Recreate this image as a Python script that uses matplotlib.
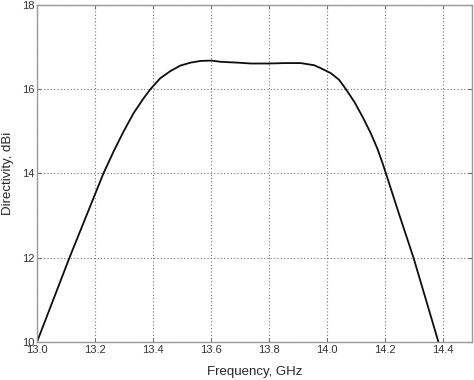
import matplotlib
matplotlib.use("Agg")
import matplotlib.pyplot as plt

plt.rcParams['font.family'] = ['Liberation Sans', 'DejaVu Sans']

# directivity curve
freq = [13.0, 13.056, 13.112, 13.229, 13.264, 13.298, 13.333, 13.367,
        13.391, 13.425, 13.46, 13.494, 13.529, 13.563, 13.6, 13.634,
        13.692, 13.738, 13.8, 13.854, 13.909, 13.955, 13.978, 14.013,
        14.042, 14.065, 14.094, 14.122, 14.151, 14.174, 14.19, 14.203,
        14.248, 14.298, 14.384]
dbi = [10.0, 11.0, 12.0, 14.0, 14.52, 14.99, 15.43, 15.78,
       16.0, 16.26, 16.43, 16.56, 16.63, 16.67, 16.68, 16.65,
       16.63, 16.61, 16.61, 16.62, 16.62, 16.57, 16.50, 16.38,
       16.22, 16.0, 15.70, 15.35, 14.95, 14.58, 14.27, 14.0,
       13.04, 12.0, 10.0]

xticks = [13.0, 13.2, 13.4, 13.6, 13.8, 14.0, 14.2, 14.4]
yticks = [10, 12, 14, 16, 18]

fig = plt.figure(figsize=(4.74, 3.8), dpi=100)
ax = fig.add_axes([0.078, 0.1, 0.918, 0.887])

ax.plot(freq, dbi, color='0.05', linewidth=1.3)

ax.set_xlim(13.0, 14.5)
ax.set_ylim(10, 18)
ax.set_xticks(xticks)
ax.set_xticklabels(['%.1f' % t for t in xticks])
ax.set_yticks(yticks)

ax.grid(True, color='0.45', linestyle=(0, (1, 2)), linewidth=0.8)
for s in ax.spines.values():
    s.set_color('0.6')
    s.set_linewidth(1.0)
ax.tick_params(direction='in', length=3, color='0.45', labelsize=8,
               labelcolor='0.2', pad=2, top=True, right=True)

ax.set_xlabel('Frequency, GHz', fontsize=9.5, color='0.15')
ax.xaxis.set_label_coords(0.5, -0.071)
ax.set_ylabel('Directivity, dBi', fontsize=9.5, color='0.15')
ax.yaxis.set_label_coords(-0.052, 0.5)

fig.savefig('out.png', dpi=100)
